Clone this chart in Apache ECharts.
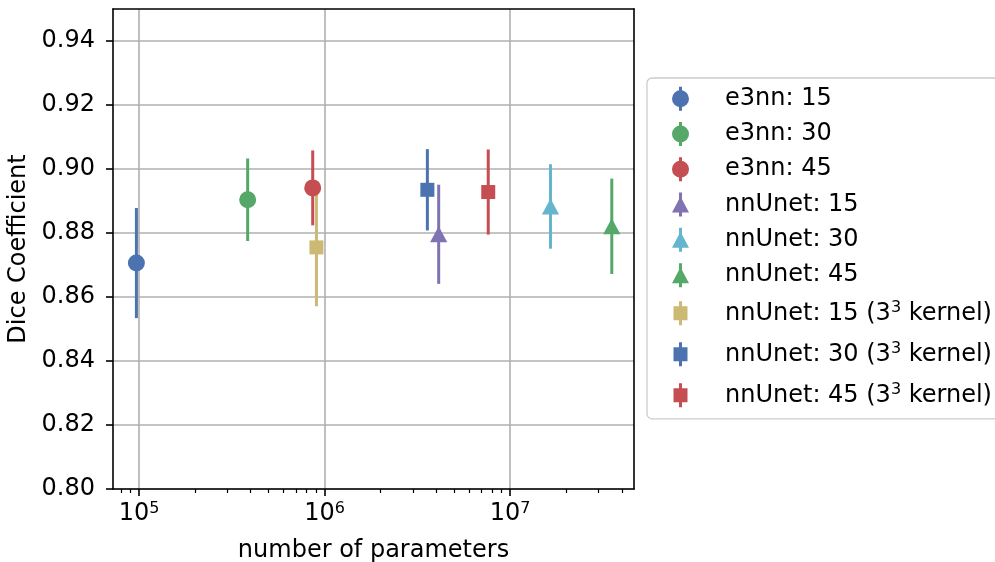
<!DOCTYPE html>
<html>
<head>
<meta charset="utf-8">
<script src="https://cdn.jsdelivr.net/npm/echarts@6/dist/echarts.min.js"></script>
<style>
html,body{margin:0;padding:0;background:#fff;}
#chart{width:995px;height:562px;}
</style>
</head>
<body>
<div id="chart"></div>
<script>
// ---- data ----
const seriesNames = ['e3nn: 15','e3nn: 30','e3nn: 45','nnUnet: 15','nnUnet: 30','nnUnet: 45',
  'nnUnet: 15 (3^3 kernel)','nnUnet: 30 (3^3 kernel)','nnUnet: 45 (3^3 kernel)'];
const params = [96800, 385000, 863000, 4120000, 16500000, 35300000, 904000, 3580000, 7620000];
const dice   = [0.8706, 0.8904, 0.8941, 0.8796, 0.8883, 0.8821, 0.8755, 0.8935, 0.8928];
const diceErr= [0.0172, 0.0129, 0.0117, 0.0155, 0.0132, 0.0149, 0.0184, 0.0127, 0.0133];
const markers= ['circle','circle','circle','triangle','triangle','triangle','square','square','square'];
const colors = ['#4C72B0','#55A868','#C44E52','#8172B2','#64B5CD','#55A868','#CCB974','#4C72B0','#C44E52'];
const xMajorTicks = [1e5, 1e6, 1e7];
const xMinorTicks = [8e4, 9e4, 2e5, 3e5, 4e5, 5e5, 6e5, 7e5, 8e5, 9e5, 2e6, 3e6, 4e6, 5e6, 6e6, 7e6, 8e6, 9e6, 2e7, 3e7, 4e7];
const yTicks = [0.80, 0.82, 0.84, 0.86, 0.88, 0.90, 0.92, 0.94];
const xRange = [72400, 46500000];
const yRange = [0.80, 0.95];

const FONT = 'DejaVu Sans';
const FS = 24;
const FS_SUP = 16;

const icons = {
  circle: 'path://M0,12 A8.5,8.5 0 1,1 17,12 A8.5,8.5 0 1,1 0,12 Z M7,0 H10 V24 H7 Z',
  triangle: 'path://M8.5,4 L17,20 L0,20 Z M7,0 H10 V24 H7 Z',
  square: 'path://M1.5,5 H15.5 V19 H1.5 Z M7,0 H10 V24 H7 Z M0,12 L0.01,12 L0,12 Z M17,12 L16.99,12 L17,12 Z'
};

function makeSeries(i) {
  const color = colors[i], shape = markers[i];
  return {
    type: 'custom',
    name: seriesNames[i],
    xAxisIndex: 0, yAxisIndex: 0,
    clip: false,
    encode: { x: 0, y: 1 },
    data: [[params[i], dice[i], dice[i] - diceErr[i], dice[i] + diceErr[i]]],
    renderItem: function (p, api) {
      const c = api.coord([api.value(0), api.value(1)]);
      const lo = api.coord([api.value(0), api.value(2)]);
      const hi = api.coord([api.value(0), api.value(3)]);
      const children = [{
        type: 'line',
        shape: { x1: c[0], y1: lo[1], x2: c[0], y2: hi[1] },
        style: { stroke: color, lineWidth: 3 }
      }];
      if (shape === 'circle') {
        children.push({ type: 'circle', shape: { cx: c[0], cy: c[1], r: 8.5 }, style: { fill: color } });
      } else if (shape === 'triangle') {
        children.push({ type: 'polygon', shape: { points: [[c[0], c[1] - 8], [c[0] + 8.6, c[1] + 8], [c[0] - 8.6, c[1] + 8]] }, style: { fill: color } });
      } else {
        children.push({ type: 'rect', shape: { x: c[0] - 7, y: c[1] - 7, width: 14, height: 14 }, style: { fill: color } });
      }
      return { type: 'group', children: children };
    }
  };
}

// draw order: kernel series first so e3nn markers sit on top
const order = [6, 7, 8, 0, 1, 2, 3, 4, 5];
const series = order.map(makeSeries);

const legendData = seriesNames.map((n, i) => ({ name: n, icon: icons[markers[i]], itemStyle: { color: colors[i] } }));

const chart = echarts.init(document.getElementById('chart'), null, { renderer: 'canvas' });
chart.setOption({
  animation: false,
  backgroundColor: '#ffffff',
  textStyle: { fontFamily: FONT },
  grid: { left: 113, top: 9, right: 361, bottom: 73, show: false, containLabel: false, outerBoundsMode: 'none' },
  xAxis: [
    {
      type: 'log', logBase: 10, min: xRange[0], max: xRange[1],
      position: 'bottom',
      name: 'number of parameters', nameLocation: 'middle', nameGap: 50,
      nameTextStyle: { fontSize: FS, color: '#000', fontFamily: FONT },
      axisLine: { show: true, lineStyle: { color: '#000', width: 1.6 } },
      axisTick: { show: true, customValues: xMajorTicks, length: 7, lineStyle: { color: '#000', width: 1.6 } },
      axisLabel: {
        customValues: xMajorTicks, margin: 11.5, color: '#000',
        formatter: function (v) { return '{b|10}{s|' + Math.round(Math.log10(v)) + '}'; },
        rich: {
          b: { fontSize: FS, lineHeight: 27, fontFamily: FONT, color: '#000' },
          s: { fontSize: FS_SUP, verticalAlign: 'top', fontFamily: FONT, color: '#000' }
        }
      },
      splitLine: { show: true, lineStyle: { color: '#b0b0b0', width: 1.6 } }
    },
    {
      type: 'log', logBase: 10, min: xRange[0], max: xRange[1], position: 'top',
      axisLine: { show: true, lineStyle: { color: '#000', width: 1.6 } },
      axisTick: { show: false }, axisLabel: { show: false }, splitLine: { show: false }
    },
    {
      type: 'log', logBase: 10, min: xRange[0], max: xRange[1], position: 'bottom',
      axisLine: { show: false },
      axisTick: { show: true, customValues: xMinorTicks, length: 4, lineStyle: { color: '#000', width: 1.2 } },
      axisLabel: { show: false }, splitLine: { show: false }
    }
  ],
  yAxis: [
    {
      type: 'value', min: yRange[0], max: yRange[1], interval: 0.02,
      position: 'left',
      name: 'Dice Coefficient', nameLocation: 'middle', nameGap: 81, nameRotate: 90,
      nameTextStyle: { fontSize: FS, color: '#000', fontFamily: FONT },
      axisLine: { show: true, lineStyle: { color: '#000', width: 1.6 } },
      axisTick: { show: true, customValues: yTicks, length: 7, lineStyle: { color: '#000', width: 1.6 } },
      axisLabel: {
        customValues: yTicks, margin: 18, fontSize: FS, color: '#000', fontFamily: FONT,
        formatter: function (v) { return v.toFixed(2); }
      },
      splitLine: { show: true, lineStyle: { color: '#b0b0b0', width: 1.6 } }
    },
    {
      type: 'value', min: yRange[0], max: yRange[1], position: 'right',
      axisLine: { show: true, lineStyle: { color: '#000', width: 1.6 } },
      axisTick: { show: false }, axisLabel: { show: false }, splitLine: { show: false }
    }
  ],
  legend: {
    orient: 'vertical', left: 647, top: 78,
    padding: [3, 40, 3, 25],
    itemWidth: 17, itemHeight: 24, itemGap: 0,
    borderColor: '#cccccc', borderWidth: 1.3, borderRadius: 5,
    backgroundColor: '#ffffff',
    data: legendData,
    formatter: function (name) {
      if (name.indexOf('^3') >= 0) {
        const parts = name.split('^3');
        return '{k|' + parts[0] + '}{sup|3}{k|' + parts[1] + '}';
      }
      return name;
    },
    textStyle: {
      fontSize: FS, color: '#000', fontFamily: FONT, lineHeight: 35.3, padding: [0, 0, 0, 31],
      rich: {
        k: { fontSize: FS, lineHeight: 41, color: '#000', fontFamily: FONT },
        sup: { fontSize: FS_SUP, lineHeight: 20, verticalAlign: 'top', padding: [7, 0, 0, 0], color: '#000', fontFamily: FONT }
      }
    }
  },
  series: series
});
</script>
</body>
</html>
